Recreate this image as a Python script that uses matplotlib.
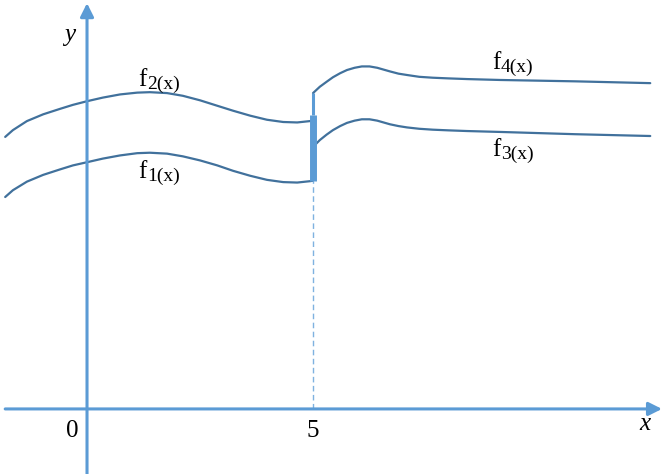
import matplotlib.pyplot as plt

# couleurs
bleu_axe = "#5B9BD5"
bleu_courbe = "#41719C"

################### données (unités du repère, saut en x = 5) ###################
x_gauche = [-1.81, -1.64, -1.33, -0.97, -0.60, -0.31, 0.0, 0.35, 0.73, 1.11, 1.39, 1.77,
            2.12, 2.50, 2.88, 3.23, 3.61, 3.98, 4.34, 4.65, 4.93, 5.0]
f1 = [4.69, 4.84, 5.03, 5.18, 5.30, 5.39, 5.46, 5.54, 5.61, 5.66, 5.67, 5.65,
      5.59, 5.50, 5.39, 5.27, 5.16, 5.07, 5.02, 5.01, 5.04, 5.05]
f2 = [6.02, 6.17, 6.37, 6.52, 6.64, 6.73, 6.81, 6.89, 6.96, 7.00, 7.01, 6.99,
      6.93, 6.83, 6.71, 6.60, 6.49, 6.40, 6.35, 6.34, 6.37, 6.38]

x_droite = [5.0, 5.15, 5.30, 5.44, 5.60, 5.75, 5.92, 6.08, 6.25, 6.42, 6.56, 6.70,
            6.89, 7.08, 7.35, 7.65, 8.0, 8.41, 9.14, 10.80, 12.46]
f3 = [5.80, 5.95, 6.07, 6.17, 6.26, 6.33, 6.38, 6.41, 6.41, 6.38, 6.34, 6.30,
      6.26, 6.23, 6.20, 6.18, 6.165, 6.15, 6.13, 6.08, 6.04]
f4 = [6.99, 7.13, 7.24, 7.34, 7.43, 7.50, 7.55, 7.58, 7.58, 7.55, 7.51, 7.47,
      7.42, 7.39, 7.35, 7.33, 7.315, 7.30, 7.28, 7.25, 7.21]

x_saut = 5
saut_epais = [5.05, 6.50]
saut_fin = [6.50, 6.99]

graduations = [0, 5]
etiquettes = ["0", "5"]

################### figure ###################
fig = plt.figure(figsize=(6.62, 4.74), dpi=100)
ax = fig.add_axes([0, 0, 1, 1])
ax.set_xlim(-1.925, 12.72)
ax.set_ylim(-1.44, 9.05)
ax.axis("off")

# axes avec flèches
ax.annotate("", xy=(12.72, 0), xytext=(-1.81, 0),
            arrowprops=dict(arrowstyle="-|>", color=bleu_axe, lw=2.2, mutation_scale=20, shrinkA=0, shrinkB=0))
ax.annotate("", xy=(0, 8.98), xytext=(0, -1.44),
            arrowprops=dict(arrowstyle="-|>", color=bleu_axe, lw=2.2, mutation_scale=20, shrinkA=0, shrinkB=0))

# courbes
for y in (f1, f2):
    ax.plot(x_gauche, y, color=bleu_courbe, lw=1.6, solid_capstyle="round", solid_joinstyle="round")
for y in (f3, f4):
    ax.plot(x_droite, y, color=bleu_courbe, lw=1.6, solid_capstyle="round", solid_joinstyle="round")

# saut en x = 5
ax.plot([x_saut, x_saut], [0, saut_epais[0]], color="#7FB2E0", lw=1.0, ls=(0, (4, 2.5)))
ax.plot([x_saut, x_saut], saut_epais, color=bleu_axe, lw=5, solid_capstyle="butt")
ax.plot([x_saut, x_saut], saut_fin, color=bleu_axe, lw=2.2, solid_capstyle="butt")

# textes
police = "Liberation Serif"
for xt, lab in zip(graduations, etiquettes):
    ax.text(xt - 0.33 if xt == 0 else xt, -0.48, lab, fontsize=18, family=police, ha="center", va="center")
ax.text(12.35, -0.33, "x", fontsize=18, family=police, style="italic", ha="center", va="center")
ax.text(-0.38, 8.27, "y", fontsize=18, family=police, style="italic", ha="center", va="center")

for xl, yl, indice in [(1.13, 7.28, "2(x)"), (1.13, 5.24, "1(x)"), (8.96, 7.65, "4(x)"), (8.96, 5.73, "3(x)")]:
    ax.text(xl, yl, "f", fontsize=18, family=police, ha="left", va="center")
    ax.text(xl + 0.2, yl - 0.1, indice, fontsize=14, family=police, ha="left", va="center")

fig.savefig("out.png", dpi=100)
plt.close()
